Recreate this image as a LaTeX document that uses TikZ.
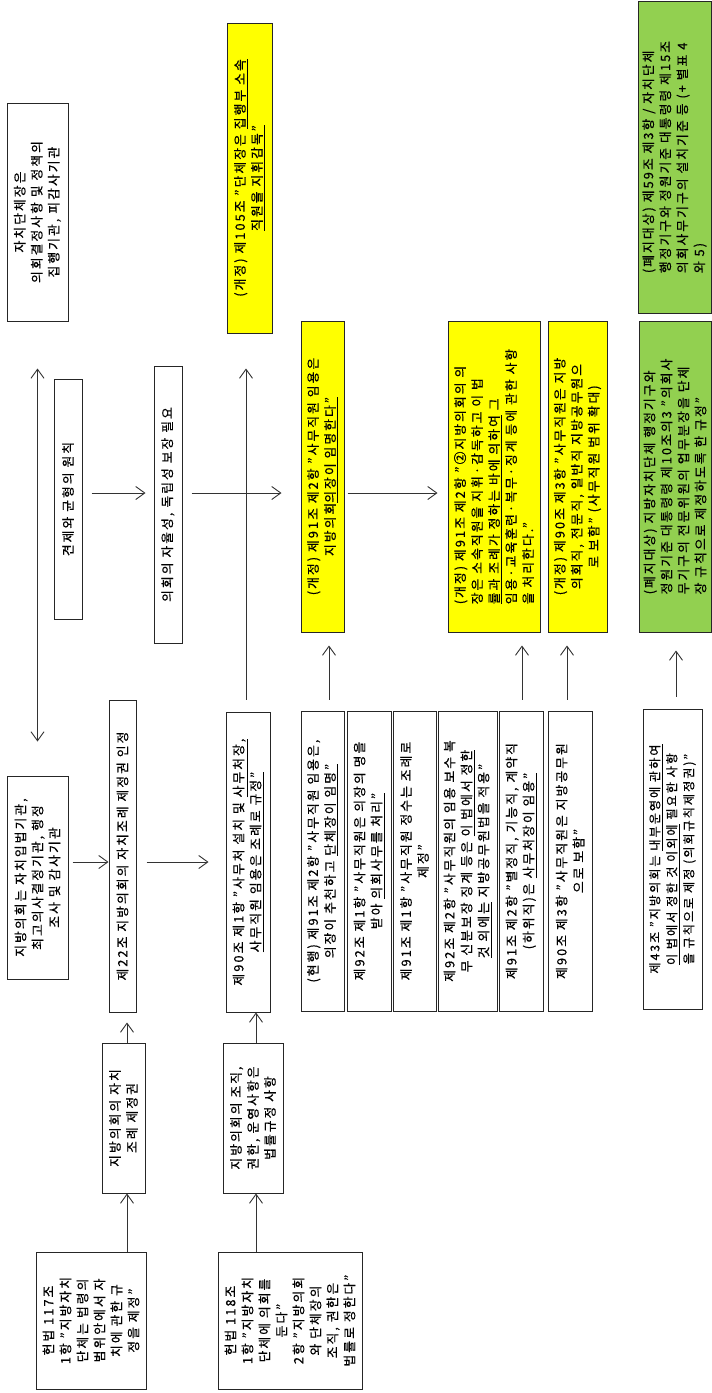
\documentclass[tikz,border=0pt]{standalone}
\usepackage{fontspec}
\setmainfont{Noto Sans CJK KR}[LetterSpace=16, FakeBold=0.5]
\usetikzlibrary{arrows.meta}
\definecolor{boxyellow}{HTML}{FFFF00}
\definecolor{boxgreen}{HTML}{92D050}
\definecolor{inkline}{HTML}{333333}
\begin{document}
\begin{tikzpicture}[x=1pt,y=-1pt,
  box/.style={draw=black!85, line width=1pt, rotate=90, inner sep=0pt,
    font=\fontsize{12.8}{17}\selectfont, align=center},
  yel/.style={box, fill=boxyellow},
  grn/.style={box, fill=boxgreen, align=left},
  wh/.style 2 args={minimum height=#1, minimum width=#2},
  arr/.style={draw=inkline, line width=0.9pt, -{Straight Barb[length=9pt,width=13pt]}},
  dblarr/.style={draw=inkline, line width=0.9pt,
    {Straight Barb[length=9pt,width=13pt]}-{Straight Barb[length=9pt,width=13pt]}}
]
\useasboundingbox[fill=white] (0,0) rectangle (712,1393);

% ---------- upper band: principles and revised articles ----------
\node[box, wh={61}{218}] (jachi) at (37.5,212)
  {자치단체장은\\의회결정사항 및 정책의\\집행기관, 피감사기관};
\node[box, wh={28}{240}] (gyeonje) at (68,499) {견제와 균형의 원칙};
\node[box, wh={28}{277}] (jayul) at (168,504.5) {의회의 자율성, 독립성 보장 필요};
\node[yel, wh={45}{310}] (yel105) at (249.5,178)
  {(개정) 제105조 "단체장은 \underline{집행부 소속}\\\underline{직원을 지휘감독"}};
\node[yel, wh={43}{311}] (yel91) at (322.5,476.5)
  {(개정) 제91조 제2항 "사무직원 임용은\\지방의회\underline{의장이 임명한다"}};
\node[yel, wh={92}{311}, align=left] (yel91b) at (494,476.5)
  {(개정) 제91조 제2항 "②지방의회의 의\\
   장은 소속직원을 지휘·감독하고 이 법\\
   \underline{률과 조례가 정하는 바에 의하여} 그\\
   임용·교육훈련·복무·징계 등에 관한 사항\\
   을 처리한다."};
\node[yel, wh={59}{311}] (yel90) at (577.5,476.5)
  {(개정) 제90조 제3항 "사무직원은 지방\\의회직, 전문직, 일반직 지방공무원으\\로 보함" (사무직원 범위 확대)};
\node[grn, wh={73}{312}] (green2) at (674.5,157)
  {(폐지대상) 제59조 제3항 / 자치단체\\행정기구와 정원기준 대통령령 제15조\\의회사무기구의 설치기준 등 (+ 별표 4\\와 5)};
\node[grn, wh={72}{311}] (green1) at (675,476.5)
  {(폐지대상) 지방자치단체 행정기구와\\정원기준 대통령령 제10조의3 "의회사\\무기구의 전문위원의 업무분장을 단체\\장 규칙으로 제정하도록 한 규정"};

% ---------- lower band: current articles ----------
\node[box, wh={61}{203}] (jibang) at (37.5,877.5)
  {지방의회는 자치입법기관,\\최고의사결정기관, 행정\\조사 및 감사기관};
\node[box, wh={27}{312}] (je22) at (122.5,856) {제22조 지방의회의 자치조례 제정권 인정};
\node[box, wh={44}{300}] (je90) at (248,862)
  {제90조 제1항 "사무처 설치 및 \underline{사무처장,}\\\underline{사무직원 임용은 조례로 규정"}};
\node[box, wh={43}{150}] (jachijore) at (123.5,1118) {지방의회의 자치\\조례 제정권};
\node[box, wh={60}{150}] (jojik) at (253,1118) {지방의회의 조직,\\권한, 운영사항은\\법률규정 사항};
\node[box, wh={110}{137}] (hb117) at (91,1320.5)
  {헌법 117조\\1항 "지방자치\\단체는 법령의\\범위안에서 자\\치에 관한 규\\정을 제정"};
\node[box, wh={144}{137}] (hb118) at (290,1320.5)
  {헌법 118조\\1항 "지방자치\\단체에 의회를\\둔다"\\2항 "지방의회\\와 단체장의\\조직, 권한은\\법률로 정한다"};

\node[box, wh={43}{300}] (w1) at (322.5,861)
  {(현행) 제91조 제2항 "사무직원 임용은,\\의장이 추천하고 \underline{단체장이 임명"}};
\node[box, wh={44}{300}] (w2) at (369,861)
  {제92조 제1항 "사무직원은 의장의 명을\\받아 \underline{의회사무를 처리"}};
\node[box, wh={43}{300}] (w3) at (414.5,861)
  {제91조 제1항 "사무직원 정수는 조례로\\제정"};
\node[box, wh={59}{300}] (w4) at (467.5,861)
  {제92조 제2항 "사무직원의 임용 보수 복\\무 신분보장 징계 등은 \underline{이 법에서 정한}\\\underline{것 외에는} 지방공무원법을 적용"};
\node[box, wh={44}{300}] (w5) at (521,861)
  {제91조 제2항 "별정직, 기능직, 계약직\\(하위직)은 \underline{사무처장이 임용"}};
\node[box, wh={44}{300}] (w6) at (570,861)
  {제90조 제3항 "사무직원은 지방공무원\\으로 보함"};
\node[box, wh={59}{300}, font=\fontsize{12.2}{17}\selectfont] (je43) at (672.5,859)
  {제43조 "지방의회는 \underline{내부운영에 관하여}\\\underline{이 법에서 정한 것 이외에} 필요한 사항\\을 규칙으로 제정 (의회규칙제정권)"};

% ---------- connectors ----------
\coordinate (r1) at (0,493);
\coordinate (r2) at (0,862);
\coordinate (c1) at (246,0);
\coordinate (c2) at (127,0);
\coordinate (c3) at (256,0);
\coordinate (c4) at (329,0);
\coordinate (c5) at (522,0);
\coordinate (c6) at (567,0);
\coordinate (c7) at (676,0);

\draw[dblarr, shorten <=47pt, shorten >=34pt] (jachi.west) -- (jibang.east);

\draw[arr, shorten <=9pt, shorten >=8pt] (gyeonje.south |- r1) -- (jayul.north |- r1);
\draw[arr, shorten <=9pt, shorten >=19pt] (jayul.south |- r1) -- (yel91.north |- r1);
\draw[arr, shorten <=3pt, shorten >=10pt] (yel91.south |- r1) -- (yel91b.north |- r1);

\draw[arr, shorten <=4pt] (jibang.south |- r2) -- (je22.north |- r2);
\draw[arr, shorten <=10pt, shorten >=17pt] (je22.south |- r2) -- (je90.north |- r2);

\draw[arr, shorten <=12pt, shorten >=35pt] (je90.east -| c1) -- (yel105.west -| c1);

\draw[arr] (hb117.east -| c2) -- (jachijore.west -| c2);
\draw[arr, shorten >=10pt] (jachijore.east -| c2) -- (je22.west -| c2);
\draw[arr] (hb118.east -| c3) -- (jojik.west -| c3);
\draw[arr] (jojik.east -| c3) -- (je90.west -| c3);

\draw[arr, shorten <=11pt, shorten >=13pt] (w1.east -| c4) -- (yel91.west -| c4);
\draw[arr, shorten <=11pt, shorten >=13pt] (w5.east -| c5) -- (yel91b.west -| c5);
\draw[arr, shorten <=11pt, shorten >=13pt] (w6.east -| c6) -- (yel90.west -| c6);
\draw[arr, shorten <=12pt, shorten >=18pt] (je43.east -| c7) -- (green1.west -| c7);
\end{tikzpicture}
\end{document}
